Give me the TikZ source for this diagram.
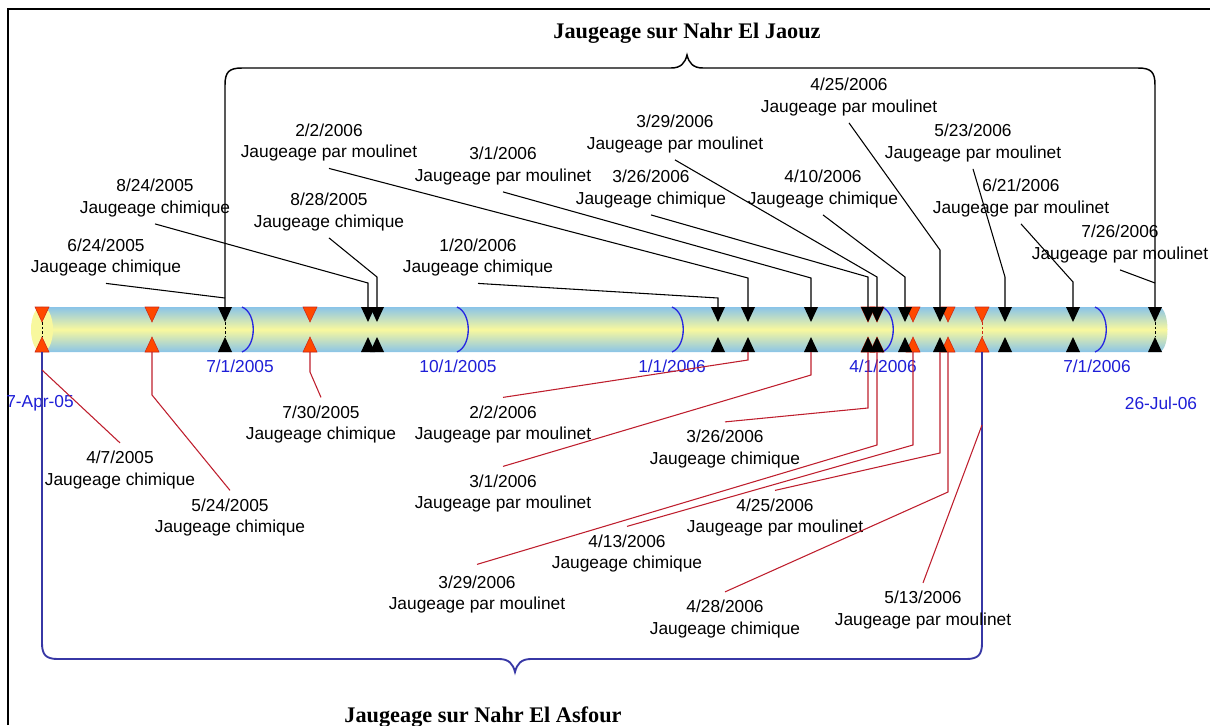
\documentclass[tikz,border=0pt]{standalone}
\usepackage{fontspec}
\setmainfont{Liberation Sans}
\newfontfamily\titlefont{Liberation Serif}
\usetikzlibrary{calc}
\definecolor{barblue}{RGB}{138,196,232}
\definecolor{baryellow}{RGB}{248,248,158}
\definecolor{datblue}{RGB}{30,30,215}
\definecolor{redline}{RGB}{190,30,45}
\definecolor{redmark}{RGB}{255,72,0}
\definecolor{redmarkedge}{RGB}{205,40,20}
\definecolor{bracketblue}{RGB}{55,55,165}
\definecolor{arcblue}{RGB}{40,40,225}
\begin{document}
\begin{tikzpicture}[x=0.75pt,y=-0.75pt,
  lbl/.style={font=\fontsize{13}{16}\selectfont, align=center, inner sep=0pt},
  axlbl/.style={font=\fontsize{13}{16}\selectfont, text=datblue, inner sep=0pt},
  ttl/.style={font=\titlefont\bfseries\fontsize{16.7}{20}\selectfont, inner sep=0pt},
  jline/.style={black, line width=0.8pt},
  rline/.style={redline, line width=0.8pt},
  brkj/.style={black, line width=1.1pt},
  brkr/.style={bracketblue, line width=1.4pt},
  monthArc/.style={arcblue, line width=1pt},
  jmk/.style={fill=black},
  rmk/.style={fill=redmark, draw=redmarkedge, line width=0.4pt},
  midDash/.style={black, line width=0.6pt, dash pattern=on 2pt off 1.5pt}
]
\useasboundingbox (0,0) rectangle (1210,725);

% frame
\draw[line width=1.9pt] (8,725) -- (8,9) -- (1210,9);

% timeline bar
\shade[top color=barblue, bottom color=barblue, middle color=baryellow]
  (42,307) -- (1160,307) .. controls (1170,312) and (1170,347) .. (1160,352) -- (42,352) -- cycle;
\fill[baryellow] (42,329.5) ellipse [x radius=11, y radius=23];

% month arcs
\foreach \x in {242,457,672,882,1095}
  \draw[monthArc] (\x,307) .. controls (\x+15,313) and (\x+15,346) .. (\x,352);

% axis labels
\node[axlbl] (a1) at (240,366) {7/1/2005};
\node[axlbl] (a2) at (458,366) {10/1/2005};
\node[axlbl] (a3) at (672,366) {1/1/2006};
\node[axlbl] (a4) at (883,366) {4/1/2006};
\node[axlbl] (a5) at (1097,366) {7/1/2006};
\node[axlbl] (a0) at (40,403) {7-Apr-05};
\node[axlbl] (a6) at (1161,403) {26-Jul-06};

% marker coordinates
\foreach \n/\x in {1/225,2/368,3/377,4/718,5/748,6/811,7/868,8/877,9/905,10/940,11/1005,12/1073,13/1155}{
  \coordinate (J\n) at (\x,307);
  \coordinate (K\n) at (\x,352);
}
\foreach \n/\x in {1/42,2/152,3/310,4/913,5/948,6/982}{
  \coordinate (R\n) at (\x,307);
  \coordinate (S\n) at (\x,352);
}

% red markers (Asfour)
\foreach \x in {42,152,310,868,877,913,948,982}{
  \filldraw[rmk] (\x-7,307) -- (\x+7,307) -- (\x,322) -- cycle;
  \filldraw[rmk] (\x-7,352) -- (\x+7,352) -- (\x,337) -- cycle;
}
% black markers (Jaouz)
\foreach \x in {225,368,377,718,748,811,868,877,905,940,1005,1073,1155}{
  \fill[jmk] (\x-7,307) -- (\x+7,307) -- (\x,322) -- cycle;
  \fill[jmk] (\x-7,352) -- (\x+7,352) -- (\x,337) -- cycle;
}
\draw[midDash] (42,322) -- (42,337);
\draw[midDash] (225,322) -- (225,337);
\draw[midDash, redmarkedge] (982,322) -- (982,337);
\draw[midDash] (1155,322) -- (1155,337);

% titles
\node[ttl] (tJ) at (687,33) {Jaugeage sur Nahr El Jaouz};
\node[ttl] (tA) at (483,717) {Jaugeage sur Nahr El Asfour};

% top bracket (Jaouz)
\draw[brkj] (J1) -- (225,85) .. controls (225,72) and (229,68) .. (242,68) -- (671,68)
  .. controls (681,68) and (685,63) .. (687,55) .. controls (689,63) and (693,68) .. (703,68)
  -- (1138,68) .. controls (1151,68) and (1155,72) .. (1155,85) -- (J13);

% bottom bracket (Asfour)
\draw[brkr] (S1) -- (42,643) .. controls (42,655) and (46,659) .. (58,659) -- (499,659)
  .. controls (509,659) and (513,664) .. (515,672) .. controls (517,664) and (521,659) .. (531,659)
  -- (966,659) .. controls (978,659) and (982,655) .. (982,643) -- (S6);

% top labels
\node[lbl] (L1) at (106,257.4) {6/24/2005\\Jaugeage chimique};
\node[lbl] (L2) at (155,197.9) {8/24/2005\\Jaugeage chimique};
\node[lbl] (L3) at (329,211.9) {8/28/2005\\Jaugeage chimique};
\node[lbl] (L4) at (329,142.4) {2/2/2006\\Jaugeage par moulinet};
\node[lbl] (L5) at (503,165.9) {3/1/2006\\Jaugeage par moulinet};
\node[lbl] (L6) at (478,257.4) {1/20/2006\\Jaugeage chimique};
\node[lbl] (L7) at (675,133.9) {3/29/2006\\Jaugeage par moulinet};
\node[lbl] (L8) at (651,188.9) {3/26/2006\\Jaugeage chimique};
\node[lbl] (L9) at (823,188.9) {4/10/2006\\Jaugeage chimique};
\node[lbl] (L10) at (849,96.9) {4/25/2006\\Jaugeage par moulinet};
\node[lbl] (L11) at (973,142.9) {5/23/2006\\Jaugeage par moulinet};
\node[lbl] (L12) at (1021,197.9) {6/21/2006\\Jaugeage par moulinet};
\node[lbl] (L13) at (1120,243.9) {7/26/2006\\Jaugeage par moulinet};

% bottom labels
\node[lbl] (B1) at (120,469.9) {4/7/2005\\Jaugeage chimique};
\node[lbl] (B2) at (230,517.4) {5/24/2005\\Jaugeage chimique};
\node[lbl] (B3) at (321,424.4) {7/30/2005\\Jaugeage chimique};
\node[lbl] (B4) at (503,424.4) {2/2/2006\\Jaugeage par moulinet};
\node[lbl] (B5) at (503,493.4) {3/1/2006\\Jaugeage par moulinet};
\node[lbl] (B6) at (725,448.9) {3/26/2006\\Jaugeage chimique};
\node[lbl] (B7) at (477,594.4) {3/29/2006\\Jaugeage par moulinet};
\node[lbl] (B8) at (627,553.4) {4/13/2006\\Jaugeage chimique};
\node[lbl] (B9) at (775,517.4) {4/25/2006\\Jaugeage par moulinet};
\node[lbl] (B10) at (725,618.9) {4/28/2006\\Jaugeage chimique};
\node[lbl] (B11) at (923,609.9) {5/13/2006\\Jaugeage par moulinet};

% top leaders (black)
\draw[jline] ($(L1.south)+(0,7)$) -- (225,298);
\draw[jline] ($(L2.south)+(0,7)$) -- (368,283) -- (J2);
\draw[jline] ($(L3.south)+(0,7)$) -- (377,277) -- (J3);
\draw[jline] ($(L6.south)+(0,7)$) -- (718,298) -- (J4);
\draw[jline] ($(L4.south)+(0,7)$) -- (748,278) -- (J5);
\draw[jline] ($(L5.south)+(0,7)$) -- (811,278) -- (J6);
\draw[jline] ($(L8.south)+(0,7)$) -- (868,277) -- (J7);
\draw[jline] ($(L7.south)+(0,7)$) -- (877,277) -- (J8);
\draw[jline] ($(L9.south)+(0,7)$) -- (905,277) -- (J9);
\draw[jline] ($(L10.south)+(0,7)$) -- (940,250) -- (J10);
\draw[jline] ($(L11.south)+(0,7)$) -- (1005,277) -- (J11);
\draw[jline] ($(L12.south)+(0,7)$) -- (1073,282) -- (J12);
\draw[jline] ($(L13.south)+(0,7)$) -- (1155,283);

% bottom leaders (red)
\draw[rline] (42,370) -- ($(B1.north)+(0,-8)$);
\draw[rline] (S2) -- (152,395) -- ($(B2.north)+(0,-8)$);
\draw[rline] (S3) -- (310,372) -- ($(B3.north)+(0,-8)$);
\draw[rline] (K5) -- (748,360) -- ($(B4.north)+(0,-8)$);
\draw[rline] (K6) -- (811,375) -- ($(B5.north)+(0,-8)$);
\draw[rline] (K7) -- (868,408) -- ($(B6.north)+(0,-8)$);
\draw[rline] (K8) -- (877,445) -- ($(B7.north)+(0,-11)$);
\draw[rline] (S4) -- (913,445) -- ($(B8.north)+(0,-8)$);
\draw[rline] (K10) -- (940,453) -- ($(B9.north)+(0,-8)$);
\draw[rline] (S5) -- (948,492) -- ($(B10.north)+(0,-8)$);
\draw[rline] (982,425) -- ($(B11.north)+(0,-8)$);
\end{tikzpicture}
\end{document}
